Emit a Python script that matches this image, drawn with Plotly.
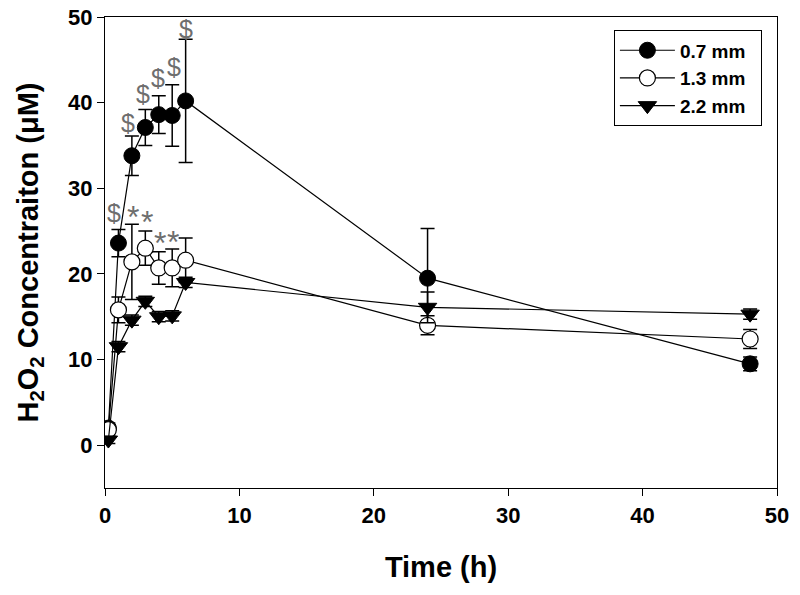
import plotly.graph_objects as go

time = [0.25, 1, 2, 3, 4, 5, 6, 24, 48]

c07 = [2.0, 23.6, 33.8, 37.1, 38.6, 38.5, 40.2, 19.5, 9.5]
e07 = [0.6, 1.6, 2.3, 2.1, 2.2, 3.6, 7.2, 5.8, 0.8]

c13 = [1.8, 15.8, 21.4, 23.0, 20.7, 20.7, 21.6, 14.0, 12.4]
e13 = [0.6, 1.5, 4.4, 2.0, 1.9, 2.2, 2.6, 1.1, 1.1]

c22 = [0.6, 11.5, 14.6, 16.8, 15.0, 15.1, 19.0, 16.1, 15.3]
e22 = [0.4, 0.6, 0.6, 0.6, 0.6, 0.6, 0.6, 1.8, 0.6]

names = ["0.7 mm", "1.3 mm", "2.2 mm"]

sig_x = [0.67, 1.71, 2.83, 3.94, 5.13, 6.03, 2.08, 3.13, 4.09, 5.06]
sig_y = [27.1, 37.6, 41.0, 42.9, 44.2, 48.6, 27.2, 26.6, 24.2, 24.3]
sig_t = ["$", "$", "$", "$", "$", "$", "*", "*", "*", "*"]

fig = go.Figure()

styles = [
    dict(symbol="circle", color="black", line=dict(color="black", width=1)),
    dict(symbol="circle", color="white", line=dict(color="black", width=1.2)),
    dict(symbol="triangle-down", color="black", line=dict(color="black", width=1)),
]
for name, y, e, st in zip(names, [c07, c13, c22], [e07, e13, e22], styles):
    fig.add_trace(go.Scatter(
        x=time, y=y, name=name + "\u2002", mode="lines+markers",
        line=dict(color="black", width=1.2),
        marker=dict(size=16, **st),
        error_y=dict(type="data", array=e, visible=True, color="black",
                     thickness=1.5, width=7),
    ))

for x, y, t in zip(sig_x, sig_y, sig_t):
    fig.add_annotation(x=x, y=y, text=t, showarrow=False,
                       yshift=0 if t == "$" else -5,
                       font=dict(family="Liberation Sans, Arial", size=25 if t == "$" else 32,
                                 color="#6e6e6e"))

axis_common = dict(showline=True, linecolor="black", linewidth=1.2, mirror=True,
                   ticks="outside", ticklen=7, tickwidth=1.2, tickcolor="black",
                   showgrid=False, zeroline=False, automargin=False,
                   ticklabeloverflow="allow",
                   tickfont=dict(family="Liberation Sans, Arial", size=22,
                                 color="black", weight="bold"))

fig.update_xaxes(range=[0, 50], dtick=10, title=dict(
    text="<b>Time (h)</b>", standoff=30,
    font=dict(family="Liberation Sans, Arial", size=29, color="black")),
    **axis_common)
fig.update_yaxes(range=[-5, 50], tickvals=[0, 10, 20, 30, 40, 50], title=dict(
    text="<b>H<sub>2</sub>O<sub>2</sub> Concentraiton (μM)</b>", standoff=20,
    font=dict(family="Liberation Sans, Arial", size=29, color="black")),
    **axis_common)

fig.update_layout(
    width=800, height=595,
    margin=dict(l=97, r=31, t=9, b=115),
    plot_bgcolor="white", paper_bgcolor="white",
    legend=dict(x=0.757, y=0.972, xanchor="left", yanchor="top",
                bordercolor="black", borderwidth=1.2, bgcolor="white",
                font=dict(family="Liberation Sans, Arial", size=19, color="black", weight="bold"),
                itemwidth=55, tracegroupgap=0),
)

fig.write_html("out.html")
